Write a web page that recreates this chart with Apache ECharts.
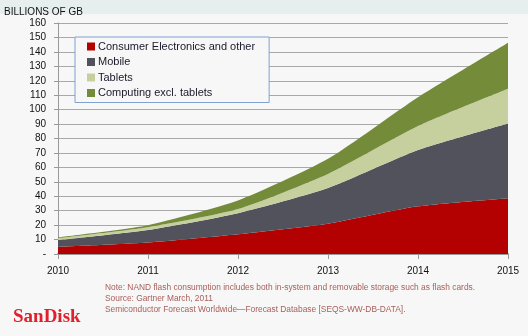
<!DOCTYPE html>
<html><head><meta charset="utf-8">
<script src="https://cdn.jsdelivr.net/npm/echarts@6/dist/echarts.min.js"></script>
<style>html,body{margin:0;padding:0;background:#f7f7f7}#c{width:528px;height:336px}</style>
</head><body><div id="c"></div>
<script>
const years = ['2010','2011','2012','2013','2014','2015'];
const consumer = [5, 8, 13.7, 21, 33, 38.7];
const mobile = [4.7, 8.7, 14.6, 24.7, 39, 51.7];
const tablets = [1.2, 1.8, 2.8, 9.7, 16.6, 24];
const computing = [0.7, 1.5, 5.9, 10.5, 20, 32];
const seriesNames = ['Consumer Electronics and other','Mobile','Tablets','Computing excl. tablets'];
const colors = ['#b30000','#52525c','#c6d09e','#748b3a'];
const notes = ['Note: NAND flash consumption includes both in-system and removable storage such as flash cards.',
  'Source: Gartner March, 2011',
  'Semiconductor Forecast Worldwide\u2014Forecast Database [SEQS-WW-DB-DATA].'];

const chart = echarts.init(document.getElementById('c'));
const data = [consumer, mobile, tablets, computing];
chart.setOption({
  animation:false,
  backgroundColor:'#f7f7f7',
  grid:{left:58,right:20,top:23,bottom:82},
  legend:{
    orient:'vertical', left:75, top:37, itemWidth:8, itemHeight:8, itemGap:4.5,
    padding:[4,14,4,12], borderColor:'#7fa2d2', borderWidth:1, backgroundColor:'#f7f7f7',
    icon:'rect',
    textStyle:{fontFamily:'Liberation Sans', fontSize:11, color:'#1a1a2a', padding:[0,0,0,-2]},
    data:seriesNames
  },
  xAxis:{type:'category', data:years, boundaryGap:false,
    axisLine:{lineStyle:{color:'#999',width:2}},
    axisTick:{show:true, length:5, lineStyle:{color:'#999'}},
    axisLabel:{fontFamily:'Liberation Sans', fontSize:10, color:'#111', margin:12}},
  yAxis:{type:'value', min:0, max:160, interval:10,
    axisLine:{show:true, lineStyle:{color:'#999',width:1}},
    axisTick:{show:true, length:4, inside:false, lineStyle:{color:'#999'}},
    splitLine:{lineStyle:{color:'#a8a8a8',width:1}},
    axisLabel:{fontFamily:'Liberation Sans', fontSize:10, color:'#111', margin:12,
      formatter:v=>v===0?'-':String(v)}},
  graphic:[
    {type:'rect', left:0, top:0, shape:{width:528,height:14}, style:{fill:'#e6eeee'}, z:-10},
    {type:'text', left:4, top:7, style:{text:'BILLIONS OF GB', font:'10px "Liberation Sans"', fill:'#111'}},
    {type:'text', left:105, top:282, style:{text:notes.join('\n'), font:'8.4px "Liberation Sans"', fill:'#a8605a', lineHeight:11}},
    {type:'text', left:13, top:308, style:{text:'SanDisk', font:'bold 19px "Liberation Serif"', fill:'#e0202c'}}
  ],
  series: seriesNames.map((n,i)=>({
    name:n, type:'line', stack:'t', data:data[i], smooth:0.2, symbol:'none',
    lineStyle:{width:0}, areaStyle:{color:colors[i], opacity:1}, itemStyle:{color:colors[i]}
  }))
});
</script></body></html>
